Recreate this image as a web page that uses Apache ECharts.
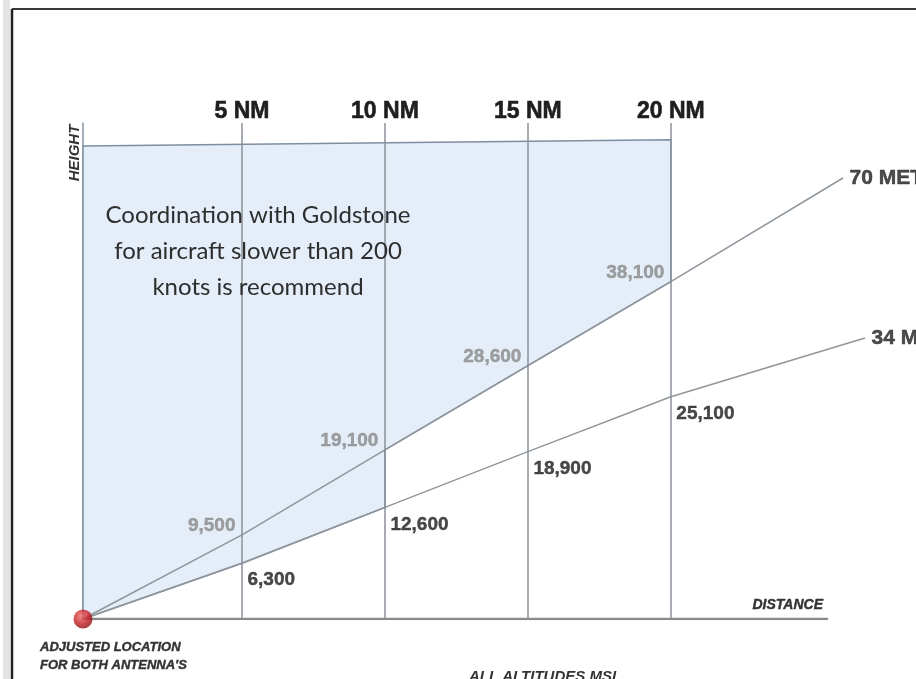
<!DOCTYPE html>
<html>
<head>
<meta charset="utf-8">
<script src="https://cdn.jsdelivr.net/npm/echarts@6/dist/echarts.min.js"></script>
<style>
html,body{margin:0;padding:0;background:#fff;}
#c{width:916px;height:679px;}
</style>
</head>
<body>
<div id="c"></div>
<script>
// ---- data ----
const distancesNM = [5, 10, 15, 20];
const distanceLabels = ['5 NM', '10 NM', '15 NM', '20 NM'];
const alt70m = [9500, 19100, 28600, 38100];
const alt34m = [6300, 12600, 18900, 25100];
const antennaX = -0.56;              // adjusted antenna location (NM)
const line70End = [26.02, 49790];    // end of 70 m line
const line34End = [26.79, 31730];    // end of 34 m line
const distanceAxisEnd = 25.5;        // end of the DISTANCE base line (NM)
const coordCeiling = [53400, 54100]; // top edge of coordination area (left, right)
const lineNames = ['70 METER', '34 METER'];

// ---- derived ----
const pts70 = [[antennaX, 0]].concat(distancesNM.map((d, i) => [d, alt70m[i]]), [line70End]);
const pts34 = [[antennaX, 0]].concat(distancesNM.map((d, i) => [d, alt34m[i]]), [line34End]);
const coordPolygon = [
  [antennaX, 0],
  [antennaX, coordCeiling[0]],
  [distancesNM[3], coordCeiling[1]],
  [distancesNM[3], alt70m[3]],
  [distancesNM[2], alt70m[2]],
  [distancesNM[1], alt70m[1]],
  [distancesNM[1], alt34m[1]],
  [distancesNM[0], alt34m[0]],
  [antennaX, 0]
];
const fmt = v => v.toLocaleString('en-US');
const SANS = "'Liberation Sans', Arial, sans-serif";

const chart = echarts.init(document.getElementById('c'));
chart.setOption({
  animation: false,
  backgroundColor: '#ffffff',
  grid: {left: 83, right: 45, top: 123, bottom: 60},
  xAxis: {
    type: 'value', min: antennaX, max: 27,
    axisLine: {show: false},
    axisTick: {show: false}, axisLabel: {show: false}, splitLine: {show: false}
  },
  yAxis: {
    type: 'value', min: 0, max: 56000,
    axisLine: {show: true, onZero: false, lineStyle: {color: '#8796a6', width: 1.5}},
    axisTick: {show: false}, axisLabel: {show: false}, splitLine: {show: false}
  },
  series: [
    {
      type: 'custom', z: 1, silent: true,
      data: [[antennaX, 0]],
      renderItem: function (params, api) {
        const p = coordPolygon.map(c => api.coord(c));
        return {type: 'polygon', shape: {points: p},
          style: {fill: '#e4edf8', stroke: '#7d8ea0', lineWidth: 1.5}};
      }
    },
    {
      name: 'distance', type: 'line', z: 2, silent: true, symbol: 'none',
      data: [[antennaX, 0], [distanceAxisEnd, 0]],
      lineStyle: {color: '#8a8a8a', width: 2.5}
    },
    {
      name: lineNames[0], type: 'line', z: 3, silent: true,
      data: pts70, symbol: 'none',
      lineStyle: {color: '#8f969c', width: 1.5},
      markLine: {
        silent: true, symbol: 'none',
        lineStyle: {color: '#8a9199', width: 1.5, type: 'solid'},
        label: {show: true, position: 'end', formatter: '{b}', distance: 0,
          color: '#1e1e1e', fontFamily: SANS, fontWeight: 'bold', fontSize: 23,
          textBorderColor: '#1e1e1e', textBorderWidth: 0.6},
        data: distancesNM.map((d, i) => ({xAxis: d, name: distanceLabels[i]}))
      }
    },
    {
      name: lineNames[1], type: 'line', z: 3, silent: true,
      data: pts34, symbol: 'none',
      lineStyle: {color: '#8f969c', width: 1.5}
    },
    {
      type: 'scatter', z: 5, silent: true, symbolSize: 1,
      itemStyle: {color: 'rgba(0,0,0,0)'},
      data: distancesNM.map((d, i) => [d, alt70m[i]]),
      label: {show: true, position: 'left', distance: 6, offset: [0, -9],
        formatter: p => fmt(p.value[1]),
        color: '#888', fontFamily: SANS, fontWeight: 'bold', fontSize: 19,
        textBorderColor: '#888', textBorderWidth: 0.4}
    },
    {
      type: 'scatter', z: 5, silent: true, symbolSize: 1,
      itemStyle: {color: 'rgba(0,0,0,0)'},
      data: distancesNM.map((d, i) => [d, alt34m[i]]),
      label: {show: true, position: 'right', distance: 5, offset: [0, 17],
        formatter: p => fmt(p.value[1]),
        color: '#1a1a1a', fontFamily: SANS, fontWeight: 'bold', fontSize: 19,
        textBorderColor: '#1a1a1a', textBorderWidth: 0.4}
    },
    {
      type: 'scatter', z: 5, silent: true, symbolSize: 1,
      itemStyle: {color: 'rgba(0,0,0,0)'},
      data: [{value: line70End, name: lineNames[0]}, {value: line34End, name: lineNames[1]}],
      label: {show: true, position: 'right', distance: 6, formatter: '{b}',
        color: '#1e1e1e', fontFamily: SANS, fontWeight: 'bold', fontSize: 21,
        textBorderColor: '#1e1e1e', textBorderWidth: 0.5}
    },
    {
      type: 'scatter', z: 6, silent: true, symbolSize: 19, clip: false,
      data: [[antennaX, 0]],
      itemStyle: {
        color: {type: 'radial', x: 0.4, y: 0.35, r: 0.7,
          colorStops: [{offset: 0, color: '#ee6a6a'}, {offset: 0.6, color: '#c41a20'}, {offset: 1, color: '#850c10'}]}
      }
    }
  ],
  graphic: [
    {type: 'rect', z: 0, shape: {x: 3, y: 0, width: 7, height: 679}, style: {fill: '#e4e4e4'}},
    {type: 'line', z: 10, shape: {x1: 12, y1: 9, x2: 916, y2: 9}, style: {stroke: '#3a3a3a', lineWidth: 2}},
    {type: 'line', z: 10, shape: {x1: 12, y1: 9, x2: 12, y2: 679}, style: {stroke: '#222', lineWidth: 2.5}},
    {type: 'text', z: 10, x: 75, y: 153, rotation: Math.PI / 2,
      style: {text: 'HEIGHT', align: 'center', verticalAlign: 'middle',
        font: "italic bold 15px " + SANS, fill: '#333'}},
    {type: 'text', z: 10, x: 823, y: 605,
      style: {text: 'DISTANCE', align: 'right', verticalAlign: 'middle',
        font: "italic bold 14px " + SANS, fill: '#333', stroke: '#333', lineWidth: 0.4}},
    {type: 'text', z: 10, x: 40, y: 656,
      style: {text: "ADJUSTED LOCATION\nFOR BOTH ANTENNA'S", align: 'left', verticalAlign: 'middle', lineHeight: 18,
        font: "italic bold 13px " + SANS, fill: '#333', stroke: '#333', lineWidth: 0.4}},
    {type: 'text', z: 10, x: 545, y: 677,
      style: {text: 'ALL ALTITUDES MSL', align: 'center', verticalAlign: 'middle',
        font: "italic bold 15px " + SANS, fill: '#333'}},
    {type: 'text', z: 10, x: 258, y: 251,
      style: {text: 'Coordination with Goldstone\nfor aircraft slower than 200\nknots is recommend', align: 'center', verticalAlign: 'middle', lineHeight: 36,
        font: "24px Lato, 'Open Sans', sans-serif", fill: '#2e2e2e'}}
  ]
});
</script>
</body>
</html>
